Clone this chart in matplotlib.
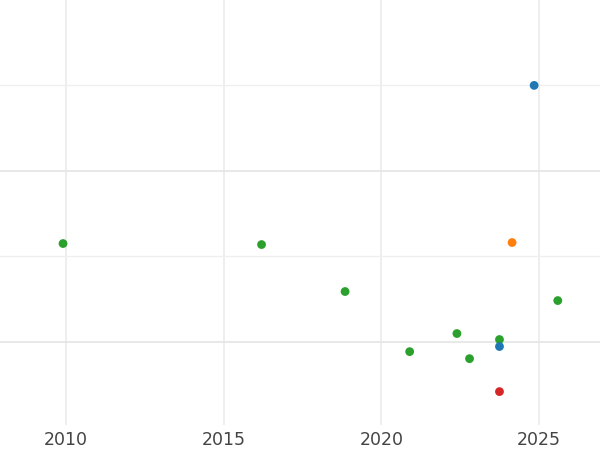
import matplotlib
matplotlib.use('Agg')
import matplotlib.pyplot as plt
import numpy as np

years = [2009.9, 2016.2, 2018.85, 2020.9, 2022.4, 2022.8, 2023.75, 2023.75, 2023.75, 2024.15, 2024.85, 2025.6]
vals = [0.574, 0.568, 0.293, -0.059, 0.047, -0.10, 0.012, -0.029, -0.293, 0.58, 1.5, 0.24]
colors = ['#2ca02c', '#2ca02c', '#2ca02c', '#2ca02c', '#2ca02c', '#2ca02c', '#2ca02c',
          '#1f77b4', '#d62728', '#ff7f0e', '#1f77b4', '#2ca02c']

fig = plt.figure(figsize=(6, 4.5), dpi=100)
ax = fig.add_axes([0, 0.055, 1, 0.945])
ax.scatter(years, vals, c=colors, s=40, zorder=3, linewidths=0)
ax.set_xlim(2007.9, 2026.94)
ax.set_ylim(-0.49, 2.0)
ax.set_xticks([2010, 2015, 2020, 2025])
ax.set_yticks([0, 1])
ax.set_yticks([0.5, 1.5], minor=True)
ax.grid(True, which='major', axis='y', color='#e6e6e6', lw=1.3)
ax.grid(True, which='major', axis='x', color='#e9e9e9', lw=1.1)
ax.grid(True, which='minor', axis='y', color='#efefef', lw=0.9)
for s in ax.spines.values():
    s.set_visible(False)
ax.tick_params(axis='x', length=0, labelsize=12.5, labelcolor='#444444', pad=4)
ax.tick_params(axis='y', which='both', length=0, labelleft=False)
fig.savefig('out.png')
